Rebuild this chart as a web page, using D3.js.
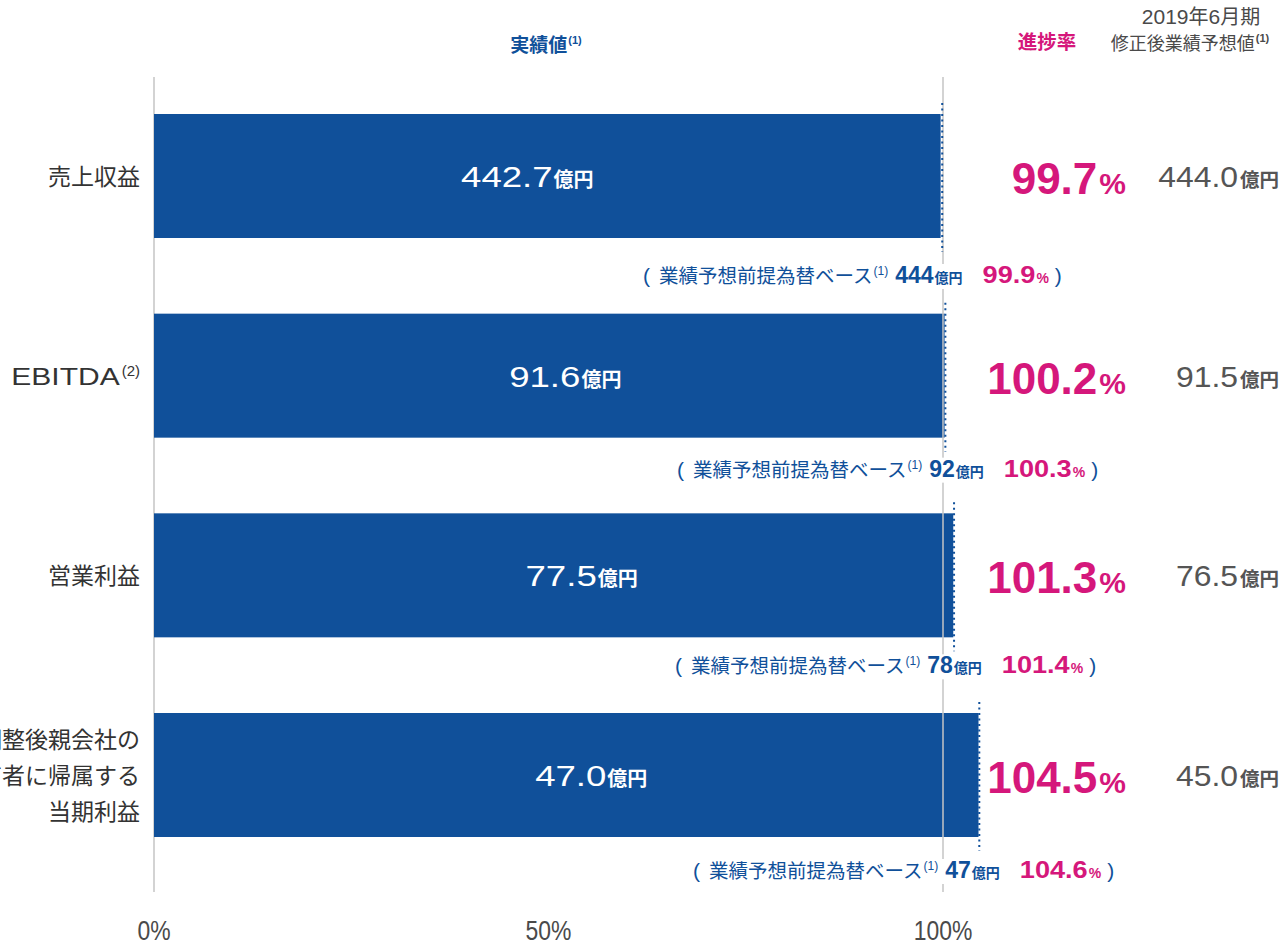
<!DOCTYPE html>
<html lang="ja">
<head>
<meta charset="utf-8">
<script src="https://cdn.jsdelivr.net/npm/d3@7/dist/d3.min.js"></script>
<style>
  html, body { margin: 0; padding: 0; background: #fff; }
  svg { display: block; font-family: "Liberation Sans", Arial, "Noto Sans CJK JP", sans-serif; }
</style>
</head>
<body>
<svg id="chart" width="1287" height="944"></svg>
<script>
// FY2019 results vs. revised forecast
const categories = ["売上収益", "EBITDA", "営業利益", "当期利益"];
const categoryLines = [["売上収益"], ["EBITDA"], ["営業利益"], ["調整後親会社の", "所有者に帰属する", "当期利益"]];
const categoryNotes = ["", "(2)", "", ""];
const actuals = ["442.7", "91.6", "77.5", "47.0"];          // 実績値 (億円)
const progressRates = [99.7, 100.2, 101.3, 104.5];       // 進捗率 (%)
const forecasts = ["444.0", "91.5", "76.5", "45.0"];      // 修正後業績予想値 (億円)
const fxBaseActuals = ["444", "92", "78", "47"];          // 業績予想前提為替ベース (億円)
const fxBaseRates = [99.9, 100.3, 101.4, 104.6];          // 業績予想前提為替ベース 進捗率 (%)
const axisTicks = [0, 50, 100];

// layout tweaks for label placement
const valueLabelDx = [-20, 16, 28, 25];
const subLabelLeft = [643, 677, 675, 693];
const subLabelDy = [45, 39, 36, 41];

const BLUE = "#10509a";
const MAGENTA = "#d5177b";
const GRAY = "#4a4a4a";
const CJK = "'Noto Sans CJK JP', sans-serif";
const LAT = "'Liberation Sans', Arial, sans-serif";

const svg = d3.select("#chart");

const x = d3.scaleLinear().domain([0, 100]).range([154, 943]);
const y = d3.scaleBand().domain(categories).range([114, 837]).paddingInner(0.379).paddingOuter(0);
const bw = y.bandwidth();

// Lays out a run of differently styled pieces on one baseline.
// Each piece: {t, size, weight, family, sx, dy, dx, fill}
function richText(parent, px, py, anchor, parts, fill) {
  const g = parent.append("g");
  let cx = 0;
  parts.forEach(p => {
    cx += p.dx || 0;
    const sx = p.sx || 1;
    const t = g.append("text")
      .attr("transform", `translate(${cx},${p.dy || 0}) scale(${sx},1)`)
      .attr("fill", p.fill || fill)
      .style("font-family", p.family || LAT)
      .style("font-size", p.size + "px")
      .style("font-weight", p.weight || "normal")
      .text(p.t);
    cx += t.node().getComputedTextLength() * sx;
  });
  const shift = anchor === "end" ? -cx : anchor === "middle" ? -cx / 2 : 0;
  g.attr("transform", `translate(${px + shift},${py})`);
  return { g, width: cx, left: px + shift };
}

// Single text element built from tspans (no stretching needed).
function spanText(px, py, anchor, fill, spans) {
  const t = svg.append("text").attr("x", px).attr("y", py)
    .attr("text-anchor", anchor).attr("fill", fill);
  spans.forEach(s => {
    const ts = t.append("tspan")
      .style("font-family", s.family || LAT)
      .style("font-size", s.size + "px")
      .style("font-weight", s.weight || "normal")
      .text(s.t);
    if (s.dy) ts.attr("dy", s.dy);
    if (s.dx) ts.attr("dx", s.dx);
  });
  return t;
}

// headers
spanText(546, 52, "middle", BLUE, [
  { t: "実績値", size: 19, weight: "bold", family: CJK },
  { t: "(1)", size: 11, weight: "bold", dy: -8, dx: 1 }
]);
spanText(1047, 49, "middle", MAGENTA, [
  { t: "進捗率", size: 19.5, weight: "bold", family: CJK }
]);
spanText(1201, 24, "middle", GRAY, [
  { t: "2019", size: 21 },
  { t: "年", size: 20, family: CJK },
  { t: "6", size: 21 },
  { t: "月期", size: 20, family: CJK }
]);
spanText(1190, 50, "middle", GRAY, [
  { t: "修正後業績予想値", size: 18, family: CJK },
  { t: "(1)", size: 11, weight: "bold", dy: -8, dx: 1 }
]);

// 0% baseline
svg.append("line").attr("x1", x(0)).attr("x2", x(0)).attr("y1", 77).attr("y2", 892)
  .attr("stroke", "#c4c4c4").attr("stroke-width", 1.5);

// bars
svg.append("g").selectAll("rect").data(categories).join("rect")
  .attr("x", x(0)).attr("y", d => y(d))
  .attr("width", (d, i) => x(progressRates[i]) - x(0))
  .attr("height", bw).attr("fill", BLUE);

// 100% reference line
svg.append("line").attr("x1", x(100)).attr("x2", x(100)).attr("y1", 77).attr("y2", 892)
  .attr("stroke", "#c4c4c4").attr("stroke-width", 1.5);

// dotted markers at FX-basis progress
svg.append("g").selectAll("line").data(categories).join("line")
  .attr("x1", (d, i) => x(fxBaseRates[i])).attr("x2", (d, i) => x(fxBaseRates[i]))
  .attr("y1", d => y(d) - 11).attr("y2", d => y(d) + bw + 14)
  .attr("stroke", BLUE).attr("stroke-width", 2).attr("stroke-dasharray", "2,3.5");

// category labels
categories.forEach((c, i) => {
  const lines = categoryLines[i];
  const cy = y(c) + bw / 2;
  const lh = 36;
  lines.forEach((ln, j) => {
    const ly = cy + (j - (lines.length - 1) / 2) * lh + 1 + 8;
    const parts = /^[A-Za-z]+$/.test(ln)
      ? [{ t: ln, size: 24, sx: 1.25 }]
      : [{ t: ln, size: 23, family: CJK }];
    if (categoryNotes[i]) parts.push({ t: categoryNotes[i], size: 15, dy: -9, dx: 2 });
    richText(svg, 140, ly, "end", parts, "#333");
  });
});

// actual values inside bars
categories.forEach((c, i) => {
  const cx = (x(0) + x(progressRates[i])) / 2 + valueLabelDx[i];
  richText(svg, cx, y(c) + bw / 2 + 11, "middle", [
    { t: actuals[i], size: 30, sx: 1.22 },
    { t: "億円", size: 20, weight: "bold", family: CJK, dx: 1 }
  ], "#fff");
});

// progress rates
categories.forEach((c, i) => {
  richText(svg, 1126, y(c) + bw / 2 + 18, "end", [
    { t: progressRates[i].toFixed(1), size: 44, weight: "bold" },
    { t: "%", size: 30, weight: "bold", dx: 2 }
  ], MAGENTA);
});

// revised forecasts
categories.forEach((c, i) => {
  richText(svg, 1279, y(c) + bw / 2 + 11, "end", [
    { t: forecasts[i], size: 29, sx: 1.1 },
    { t: "億円", size: 19.5, weight: "bold", family: CJK, dx: 2 }
  ], "#555");
});

// FX-basis sub labels
categories.forEach((c, i) => {
  const holder = svg.append("g");
  const bg = holder.append("rect").attr("fill", "#fff");
  const by = y(c) + bw + subLabelDy[i];
  const r = richText(holder, subLabelLeft[i], by, "start", [
    { t: "(", size: 21 },
    { t: "業績予想前提為替ベース", size: 19.5, family: CJK, dx: 9 },
    { t: "(1)", size: 12, dy: -8, dx: 1 },
    { t: fxBaseActuals[i], size: 23, weight: "bold", dx: 7 },
    { t: "億円", size: 14, weight: "bold", family: CJK, dx: 1 },
    { t: fxBaseRates[i].toFixed(1), size: 23, weight: "bold", sx: 1.18, dx: 20, fill: MAGENTA },
    { t: "%", size: 14, weight: "bold", dx: 1, fill: MAGENTA },
    { t: ")", size: 21, dx: 6 }
  ], BLUE);
  bg.attr("x", r.left - 2).attr("y", by - 19).attr("width", r.width + 4).attr("height", 25);
});

// axis labels
svg.append("g").selectAll("text").data(axisTicks).join("text")
  .attr("x", d => x(d)).attr("y", 940).attr("text-anchor", "middle")
  .attr("fill", GRAY).style("font-size", "27px")
  .attr("transform", d => `translate(${x(d)},0) scale(0.85,1) translate(${-x(d)},0)`)
  .text(d => d + "%");
</script>
</body>
</html>
